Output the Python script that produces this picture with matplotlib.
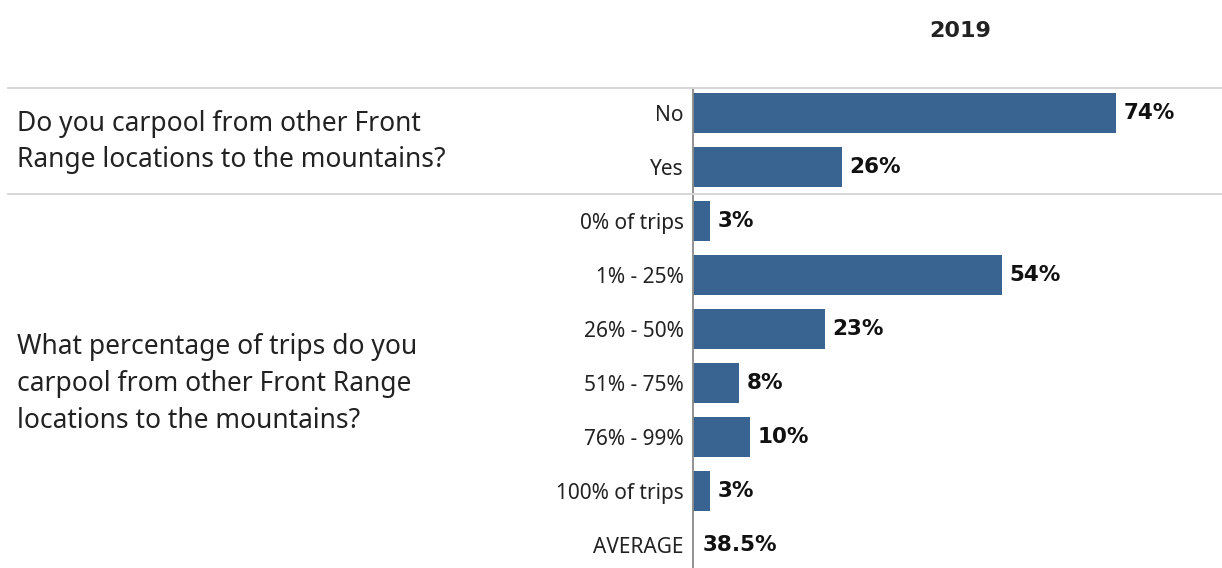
import matplotlib
matplotlib.use("Agg")
import matplotlib.pyplot as plt
from matplotlib.lines import Line2D

# Survey responses, 2019
year = "2019"
q1_text = "Do you carpool from other Front\nRange locations to the mountains?"
q1_labels = ["No", "Yes"]
q1_values = [74, 26]

q2_text = ("What percentage of trips do you\ncarpool from other Front Range\n"
           "locations to the mountains?")
q2_labels = ["0% of trips", "1% - 25%", "26% - 50%", "51% - 75%", "76% - 99%",
             "100% of trips"]
q2_values = [3, 54, 23, 8, 10, 3]

avg_label = "AVERAGE"
avg_value = 38.5

BAR = "#396491"
FONT = "Noto Sans"
BOLD = "DejaVu Sans"
TXT = "#222222"
W, H = 1222, 568

fig = plt.figure(figsize=(W / 100, H / 100), dpi=100)

# axes placed in pixel terms: zero line at x=693, top rule at y=88
x0, top = 693, 88
px_per_pct = 5.72
row_h = 54
first_center = 113
ax = fig.add_axes([x0 / W, 0, (W - x0) / W, (H - top) / H])
ax.set_xlim(0, (W - x0) / px_per_pct)
ax.set_ylim((H - first_center) / row_h, -(first_center - top) / row_h)
ax.axis("off")

labels = q1_labels + q2_labels
values = q1_values + q2_values
ypos = list(range(len(labels)))
ax.barh(ypos, values, height=0.74, color=BAR, edgecolor="none")

for y, v in zip(ypos, values):
    ax.annotate(f"{v}%", (v, y), xytext=(5.5, 0), textcoords="offset points",
                va="center", ha="left", fontsize=15.5, fontweight="bold",
                family=BOLD, color="#111111")

avg_y = len(labels)
ax.annotate(f"{avg_value}%", (0, avg_y), xytext=(7, 0), textcoords="offset points",
            va="center", ha="left", fontsize=15.5, fontweight="bold",
            family=BOLD, color="#111111")

# category labels to the left of the zero line
for y, lab in zip(ypos + [avg_y], labels + [avg_label]):
    ax.annotate(lab, (0, y), xytext=(-6.5, -1.5), textcoords="offset points",
                va="center", ha="right", fontsize=15, family=FONT,
                color=TXT, annotation_clip=False)

# zero line
fig.add_artist(Line2D([x0 / W, x0 / W], [0, (H - top) / H],
                      color="#8a8a8a", lw=1.3, transform=fig.transFigure))

# horizontal section rules
for yr in (88, 194):
    fig.add_artist(Line2D([8 / W, 1], [(H - yr) / H] * 2, color="#d6d6d6",
                          lw=1.4, transform=fig.transFigure))

# section questions
fig.text(17 / W, (H - 142) / H, q1_text, fontsize=19, family=FONT,
         color=TXT, va="center", ha="left", linespacing=1.42)
fig.text(17 / W, (H - 384) / H, q2_text, fontsize=19, family=FONT,
         color=TXT, va="center", ha="left", linespacing=1.42)

# column header
fig.text(960 / W, (H - 31) / H, year, fontsize=16, fontweight="bold",
         family=BOLD, color=TXT, ha="center", va="center")

fig.savefig("out.png", dpi=100)
